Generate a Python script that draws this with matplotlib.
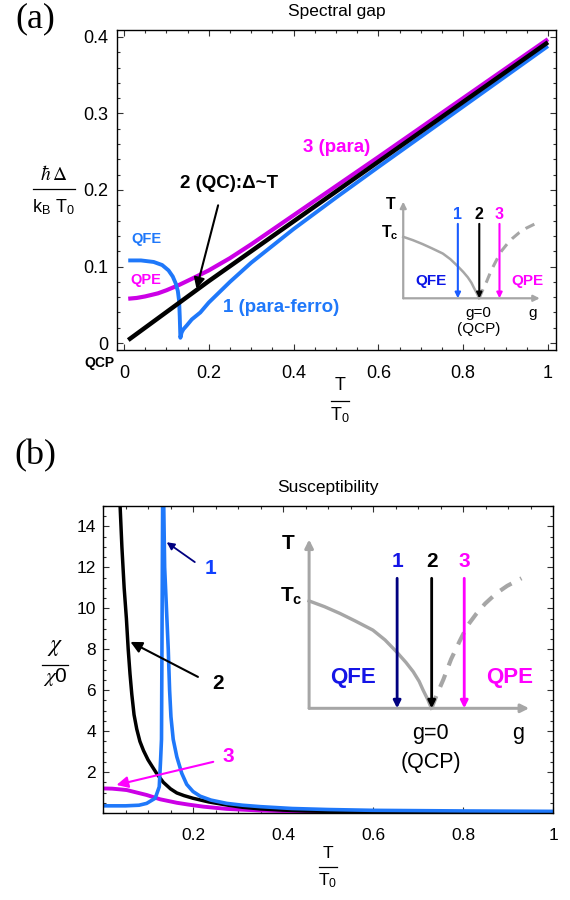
import numpy as np
import matplotlib
matplotlib.use('Agg')
import matplotlib.pyplot as plt
from matplotlib.lines import Line2D
from matplotlib.ticker import MultipleLocator, FixedLocator

plt.rcParams['font.family'] = ['Liberation Sans', 'DejaVu Sans']
plt.rcParams['mathtext.fontset'] = 'custom'
plt.rcParams['mathtext.rm'] = 'Liberation Sans'
plt.rcParams['mathtext.bf'] = 'Liberation Sans:bold'
plt.rcParams['mathtext.it'] = 'Liberation Sans:italic'

BLUE = '#1f78fa'
MAG = '#cc00e6'
PINK = '#ff00ff'
GREY = '#a6a6a6'
NAVY = '#000080'

# ---- (a) spectral gap ----
T_gap_2 = [0.01, 0.2, 0.4, 0.6, 0.8, 1.0]
gap_2 = [0.004, 0.081, 0.159, 0.237, 0.315, 0.393]

T_gap_3 = [0.01, 0.03, 0.05, 0.08, 0.10, 0.13, 0.16, 0.2, 0.25, 0.3, 0.4, 0.5, 0.6, 0.8, 1.0]
gap_3 = [0.058, 0.059, 0.061, 0.065, 0.069, 0.076, 0.084, 0.095, 0.111, 0.129, 0.167, 0.205, 0.243, 0.320, 0.397]

T_gap_1 = [0.01, 0.04, 0.07, 0.09, 0.105, 0.115, 0.122, 0.127, 0.130, 0.1315, 0.133,
           0.136, 0.14, 0.148, 0.16, 0.18, 0.2, 0.25, 0.3, 0.35, 0.4, 0.5, 0.6, 0.8, 1.0]
gap_1 = [0.108, 0.108, 0.106, 0.102, 0.095, 0.087, 0.078, 0.068, 0.055, 0.035, 0.007,
         0.014, 0.018, 0.023, 0.031, 0.040, 0.053, 0.080, 0.105, 0.127, 0.149, 0.190, 0.230, 0.309, 0.388]

# ---- (b) susceptibility ----
T_chi_2 = [0.038, 0.042, 0.047, 0.052, 0.056, 0.060, 0.064, 0.069, 0.075, 0.082, 0.09, 0.10,
           0.11, 0.119, 0.134, 0.15, 0.164, 0.18, 0.2, 0.235, 0.275, 0.31, 0.35, 0.4, 0.45,
           0.5, 0.6, 0.8, 1.0]
chi_2 = [15.0, 13.0, 11.0, 9.5, 8.0, 6.8, 5.8, 4.8, 4.1, 3.5, 3.05, 2.6,
         2.25, 1.94, 1.5, 1.18, 0.98, 0.85, 0.72, 0.54, 0.39, 0.28, 0.2, 0.14, 0.1,
         0.08, 0.05, 0.03, 0.02]

T_chi_1 = [0.0, 0.05, 0.08, 0.097, 0.116, 0.125, 0.128, 0.130, 0.131, 0.1325, 0.1335,
           0.135, 0.137, 0.141, 0.145, 0.148, 0.151, 0.156, 0.164, 0.175, 0.186, 0.2,
           0.216, 0.24, 0.275, 0.31, 0.35, 0.42, 0.5, 0.6, 0.8, 1.0]
chi_1 = [0.35, 0.35, 0.38, 0.47, 0.72, 1.28, 2.6, 3.6, 8.0, 15.0, 30.0,
         15.0, 12.0, 10.0, 8.0, 6.0, 4.7, 3.6, 2.75, 1.94, 1.4, 1.05,
         0.82, 0.63, 0.47, 0.38, 0.31, 0.22, 0.17, 0.13, 0.1, 0.08]

T_chi_3 = [0.0, 0.02, 0.04, 0.053, 0.075, 0.097, 0.127, 0.164, 0.19, 0.223, 0.275, 0.35,
           0.45, 0.6, 0.8, 1.0]
chi_3 = [1.2, 1.19, 1.15, 1.12, 1.0, 0.88, 0.67, 0.5, 0.41, 0.31, 0.2, 0.12,
         0.07, 0.04, 0.03, 0.02]

# ---- inset phase diagram (schematic units) ----
g_tc = [0.0, 0.07, 0.14, 0.21, 0.29, 0.345, 0.397, 0.44, 0.473, 0.50, 0.518, 0.54, 0.556]
T_tc = [0.636, 0.602, 0.562, 0.517, 0.463, 0.405, 0.335, 0.272, 0.217, 0.16, 0.108, 0.05, 0.0]
g_cross = [0.556, 0.58, 0.61, 0.645, 0.685, 0.72, 0.76, 0.80, 0.85, 0.90, 0.965]
T_cross = [0.0, 0.08, 0.17, 0.29, 0.40, 0.49, 0.56, 0.62, 0.68, 0.725, 0.77]
g_paths = [0.40, 0.557, 0.705]
path_labels = ['1', '2', '3']

fig = plt.figure(figsize=(5.7, 9.0), dpi=100)


def px_axes(l, t, r, b):
    return fig.add_axes([l / 570, 1 - b / 900, (r - l) / 570, (b - t) / 900])


def style_frame(ax, lab):
    ax.tick_params(which='both', direction='in', top=True, right=True, labelsize=lab,
                   width=0.8, color='#333333')
    ax.tick_params(which='major', length=4)
    ax.tick_params(which='minor', length=2.5)
    for sp in ax.spines.values():
        sp.set_linewidth(1.0)


def inset(ax, rect, s, c1, lab1, qfe, fs_lab, fs_txt, fs_g):
    ins = ax.inset_axes(rect)
    ins.set_xlim(0, 1)
    ins.set_ylim(0, 1)
    ins.axis('off')
    ap = dict(arrowstyle='-|>', color=GREY, lw=1.6 * s, mutation_scale=9 * s,
              shrinkA=0, shrinkB=0)
    ins.annotate('', xy=(1.0, 0), xytext=(0, 0), arrowprops=ap, annotation_clip=False)
    ins.annotate('', xy=(0, 1.0), xytext=(0, 0), arrowprops=ap, annotation_clip=False)
    ins.plot(g_tc, T_tc, color=GREY, lw=1.8 * s, clip_on=False)
    ins.plot(g_cross, T_cross, color=GREY, lw=2.2 * s, ls=(0, (3.2, 2.4)), clip_on=False)
    cols = [c1, 'black', PINK]
    lcols = [lab1, 'black', PINK]
    for g, lb, c, lc in zip(g_paths, path_labels, cols, lcols):
        ins.annotate('', xy=(g, 0.0), xytext=(g, 0.77),
                     arrowprops=dict(arrowstyle='-|>', color=c, lw=1.5 * s,
                                     mutation_scale=8 * s, shrinkA=0, shrinkB=0),
                     annotation_clip=False)
        ins.text(g, 0.87, lb, color=lc, fontsize=fs_lab, fontweight='bold',
                 ha='center', va='center')
    ins.text(-0.095, 0.975, 'T', fontsize=fs_lab, fontweight='bold', ha='center', va='center')
    ins.text(-0.03, 0.63, r'T$_\mathbf{c}$', fontsize=fs_lab, fontweight='bold',
             ha='right', va='baseline')
    ins.text(0.2, 0.18, 'QFE', color=qfe, fontsize=fs_txt, fontweight='bold',
             ha='center', va='center')
    ins.text(0.91, 0.18, 'QPE', color=PINK, fontsize=fs_txt, fontweight='bold',
             ha='center', va='center')
    ins.text(0.55, -0.15, 'g=0', fontsize=fs_g, ha='center', va='center')
    ins.text(0.555, -0.32, '(QCP)', fontsize=fs_g, ha='center', va='center')
    ins.text(0.95, -0.15, 'g', fontsize=fs_g, ha='center', va='center')
    return ins


def frac_label(xc, yn, yl, yd, num, den, half, fsn, fsd, mathfam='stix'):
    fig.text(xc / 570, 1 - yn / 900, num, fontsize=fsn, ha='center', va='center',
             math_fontfamily=mathfam)
    fig.add_artist(Line2D([(xc - half) / 570, (xc + half) / 570], [1 - yl / 900] * 2,
                          transform=fig.transFigure, color='black', lw=0.9))
    fig.text(xc / 570, 1 - yd / 900, den, fontsize=fsd, ha='center', va='center',
             math_fontfamily=mathfam)


# ================= panel (a) =================
ax1 = px_axes(117, 30, 556, 350)
ax1.plot(T_gap_3, gap_3, color=MAG, lw=3.0, solid_capstyle='butt')
ax1.plot(T_gap_1, gap_1, color=BLUE, lw=2.8, solid_capstyle='butt')
ax1.plot(T_gap_2, gap_2, color='black', lw=3.2, solid_capstyle='butt')
ax1.set_xlim(-0.0165, 1.019)
ax1.set_ylim(-0.009, 0.409)
ax1.xaxis.set_major_locator(FixedLocator([0, 0.2, 0.4, 0.6, 0.8, 1.0]))
ax1.set_xticklabels(['0', '0.2', '0.4', '0.6', '0.8', '1'])
ax1.xaxis.set_minor_locator(MultipleLocator(0.05))
ax1.yaxis.set_major_locator(FixedLocator([0, 0.1, 0.2, 0.3, 0.4]))
ax1.set_yticklabels(['0', '0.1', '0.2', '0.3', '0.4'])
ax1.yaxis.set_minor_locator(MultipleLocator(0.02))
style_frame(ax1, 13)
ax1.tick_params(axis='x', pad=11)
ax1.tick_params(axis='y', pad=6)
ax1.set_title('Spectral gap', fontsize=12.5, pad=10)

ax1.text(0.422, 0.256, '3 (para)', color=PINK, fontsize=13.5, fontweight='bold',
         ha='left', va='center')
ax1.text(0.132, 0.209, '2 (QC):\u0394~T', color='black', fontsize=13.5, fontweight='bold',
         ha='left', va='center')
ax1.annotate('', xy=(0.171, 0.071), xytext=(0.222, 0.180),
             arrowprops=dict(arrowstyle='-|>', color='black', lw=1.5, mutation_scale=16,
                             shrinkA=0, shrinkB=0))
ax1.text(0.234, 0.046, '1 (para-ferro)', color=BLUE, fontsize=13.5, fontweight='bold',
         ha='left', va='center')
ax1.text(0.052, 0.136, 'QFE', color=BLUE, fontsize=10.5, fontweight='bold',
         ha='center', va='center')
ax1.text(0.052, 0.082, 'QPE', color=PINK, fontsize=10.5, fontweight='bold',
         ha='center', va='center')
ax1.text(-0.059, -0.026, 'QCP', fontsize=10, fontweight='bold', ha='center', va='center',
         clip_on=False)

inset(ax1, [0.652, 0.1616, 0.311, 0.302], 1.0, '#1a5cff', '#1a5cff', '#0a14e6',
      11.5, 11, 11)

frac_label(54, 174, 189, 207, r'$\hbar\,\Delta$', r'k$_\mathregular{B}$ T$_\mathregular{0}$',
           21, 14, 13)
frac_label(340, 386, 401, 415, 'T', r'T$_\mathregular{0}$', 9, 13, 13)

fig.text(35 / 570, 1 - 19 / 900, '(a)', fontsize=26, family='Liberation Serif',
         ha='center', va='center')

# ================= panel (b) =================
ax2 = px_axes(103, 506, 553, 813)
ax2.plot(T_chi_3, chi_3, color=MAG, lw=2.8, solid_capstyle='butt')
ax2.plot(T_chi_2, chi_2, color='black', lw=2.5, solid_capstyle='butt')
ax2.plot(T_chi_1, chi_1, color=BLUE, lw=2.6, solid_capstyle='butt')
ax2.set_xlim(0, 1.0)
ax2.set_ylim(0, 15)
ax2.xaxis.set_major_locator(FixedLocator([0.2, 0.4, 0.6, 0.8, 1.0]))
ax2.set_xticklabels(['0.2', '0.4', '0.6', '0.8', '1'])
ax2.xaxis.set_minor_locator(MultipleLocator(0.05))
ax2.yaxis.set_major_locator(FixedLocator([2, 4, 6, 8, 10, 12, 14]))
ax2.yaxis.set_minor_locator(MultipleLocator(0.5))
style_frame(ax2, 12.5)
ax2.tick_params(axis='x', pad=11)
ax2.tick_params(axis='y', pad=5)
ax2.set_title('Susceptibility', fontsize=12.5, pad=10)

ax2.text(0.238, 11.95, '1', color='#1040ff', fontsize=15, fontweight='bold',
         ha='center', va='center')
ax2.annotate('', xy=(0.1415, 13.23), xytext=(0.204, 12.26),
             arrowprops=dict(arrowstyle='-|>', color=NAVY, lw=1.3, mutation_scale=11,
                             shrinkA=0, shrinkB=0))
ax2.text(0.256, 6.34, '2', color='black', fontsize=15, fontweight='bold',
         ha='center', va='center')
ax2.annotate('', xy=(0.061, 8.36), xytext=(0.211, 6.65),
             arrowprops=dict(arrowstyle='-|>', color='black', lw=1.5, mutation_scale=17,
                             shrinkA=0, shrinkB=0))
ax2.text(0.278, 2.75, '3', color=PINK, fontsize=15, fontweight='bold',
         ha='center', va='center')
ax2.annotate('', xy=(0.030, 1.37), xytext=(0.245, 2.5),
             arrowprops=dict(arrowstyle='-|>', color=PINK, lw=1.5, mutation_scale=17,
                             shrinkA=0, shrinkB=0))

inset(ax2, [0.458, 0.341, 0.489, 0.55], 1.35, NAVY, '#1515e6', '#1515e6',
      15, 16, 15.5)

frac_label(55, 647, 665, 677, r'$\chi$', r'$\chi$0', 13, 17, 15)
frac_label(328, 853, 867, 881, 'T', r'T$_\mathregular{0}$', 9, 12.5, 12.5)

fig.text(35 / 570, 1 - 456 / 900, '(b)', fontsize=26, family='Liberation Serif',
         ha='center', va='center')

fig.savefig('out.png', dpi=100)
